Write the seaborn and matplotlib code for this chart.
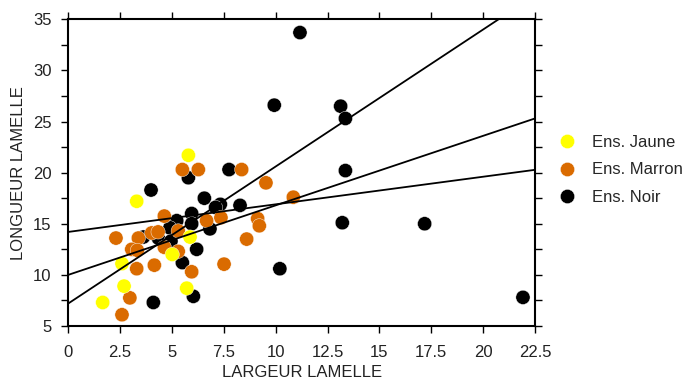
import numpy as np
import pandas as pd
import matplotlib
matplotlib.use("Agg")
import matplotlib.pyplot as plt
import seaborn as sns

# Ens. Jaune
jaune_x = [1.66, 2.59, 2.69, 3.30, 5.01, 5.79, 5.87, 5.71]
jaune_y = [7.3, 11.1, 8.9, 17.2, 12.0, 21.7, 13.7, 8.7]

# Ens. Marron
marron_x = [5.50, 6.27, 8.36, 9.53, 10.85, 4.63, 6.67, 7.36, 9.13, 9.21,
            2.30, 3.38, 4.02, 4.33, 5.30, 3.06, 3.33, 4.63, 5.30, 8.60,
            3.30, 4.15, 5.95, 7.51, 2.97, 2.59]
marron_y = [20.3, 20.3, 20.3, 19.0, 17.6, 15.75, 15.3, 15.6, 15.5, 14.8,
            13.6, 13.6, 14.1, 14.2, 14.3, 12.5, 12.4, 12.7, 12.3, 13.5,
            10.6, 10.95, 10.3, 11.05, 7.75, 6.1]

# Ens. Noir
noir_x = [5.79, 7.75, 3.99, 6.56, 7.33, 8.28, 5.95, 5.23, 4.90, 5.95,
          6.83, 3.62, 4.34, 4.95, 6.19, 5.50, 10.20, 6.03, 4.10, 11.17,
          9.93, 13.13, 13.36, 13.36, 13.21, 17.18, 21.92, 7.10]
noir_y = [19.5, 20.3, 18.3, 17.5, 16.9, 16.8, 16.0, 15.3, 14.6, 15.0,
          14.5, 13.7, 13.6, 13.3, 12.5, 11.2, 10.6, 7.9, 7.3, 33.7,
          26.6, 26.5, 25.3, 20.2, 15.1, 15.0, 7.8, 16.6]

groups = ["Ens. Jaune", "Ens. Marron", "Ens. Noir"]
colors = ["#FFFF00", "#DA6B00", "#000000"]

# droites d'ajustement (ordonnée à l'origine, pente)
fit_intercept = [7.2, 10.0, 14.2]
fit_slope = [1.34, 0.68, 0.27]

# noir dessiné en dessous, jaune au-dessus
df = pd.concat([
    pd.DataFrame({"x": noir_x, "y": noir_y, "groupe": groups[2]}),
    pd.DataFrame({"x": marron_x, "y": marron_y, "groupe": groups[1]}),
    pd.DataFrame({"x": jaune_x, "y": jaune_y, "groupe": groups[0]}),
], ignore_index=True)

sns.set_style("ticks")
plt.rcParams["font.family"] = ["Liberation Sans", "DejaVu Sans"]
plt.rcParams["axes.spines.top"] = True
plt.rcParams["axes.spines.right"] = True

fig = plt.figure(figsize=(6.93, 3.81), dpi=100)
ax = fig.add_axes([0.0985, 0.1444, 0.6735, 0.805])

sns.scatterplot(data=df, x="x", y="y", hue="groupe", palette=colors,
                hue_order=groups, s=105, edgecolor="white", linewidth=0.3,
                ax=ax, zorder=2)

xs = np.array([0, 22.5])
for b0, b1 in zip(fit_intercept, fit_slope):
    ax.plot(xs, b0 + b1 * xs, color="black", lw=1.3, zorder=3)

ax.set_xlim(0, 22.5)
ax.set_ylim(5, 35)
ax.set_xticks(np.arange(0, 22.6, 2.5))
ax.set_xticklabels(["0", "2.5", "5", "7.5", "10", "12.5", "15", "17.5", "20", "22.5"])
ax.set_yticks(np.arange(5, 36, 5))
ax.set_yticks(np.arange(5, 35.1, 2.5), minor=True)
ax.tick_params(which="both", direction="out", length=5, width=1, color="black",
               top=True, right=True, labelsize=12, labelcolor="#222222")
ax.tick_params(axis="x", pad=9)
ax.tick_params(axis="y", pad=7)
for sp in ax.spines.values():
    sp.set_visible(True)
    sp.set_linewidth(1.5)
    sp.set_color("black")
    sp.set_zorder(5)

ax.set_xlabel("LARGEUR LAMELLE", fontsize=12, labelpad=3, color="#222222")
ax.set_ylabel("LONGUEUR LAMELLE", fontsize=12, labelpad=5, color="#222222")

handles, labels = ax.get_legend_handles_labels()
ax.legend(handles, labels, loc="center left", bbox_to_anchor=(0.773, 0.554),
          bbox_transform=fig.transFigure, frameon=False, fontsize=12,
          handlelength=2.0, handletextpad=0.45, labelspacing=0.75)

fig.savefig("out.png", dpi=100)
